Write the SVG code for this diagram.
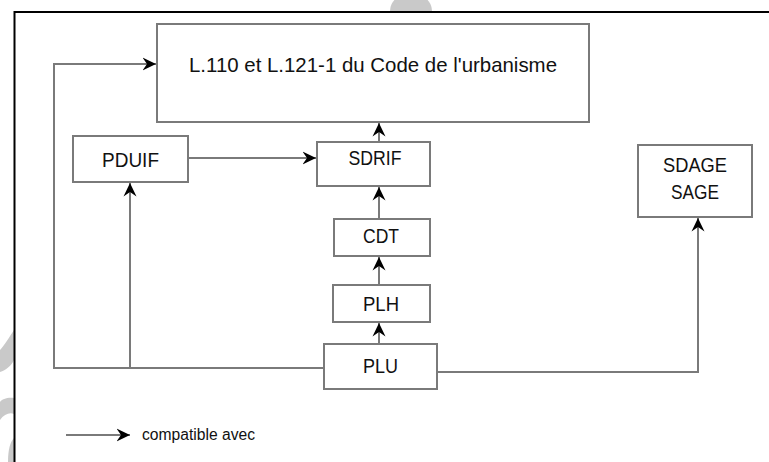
<svg xmlns="http://www.w3.org/2000/svg" width="769" height="462" viewBox="0 0 769 462">
  <style>
    .box { fill: #ffffff; stroke: #7a7a7a; stroke-width: 2; }
    .lbl { font-family: "Liberation Sans", Arial, sans-serif; font-size: 21px; fill: #111111; text-anchor: middle; }
    .wire { fill: none; stroke: #7a7a7a; stroke-width: 2; }
    .frame { fill: none; stroke: #000000; stroke-width: 2; }
    .mark { fill: #c9c9c9; }
  </style>
  <defs>
    <marker id="arrow" markerUnits="userSpaceOnUse" markerWidth="14" markerHeight="14" viewBox="0 0 14 14" refX="13.5" refY="7" orient="auto">
      <path d="M0,0.5 L13.5,7 L0,13.5 L4.5,7 Z" fill="#000000"/>
    </marker>
  </defs>

  <rect width="769" height="462" fill="#ffffff"/>

  <!-- faint marks along the page edge -->
  <g id="edge-marks">
    <path class="mark" d="M390,11 A21,18 0 0 1 432,11 Z"/>
    <path class="mark" d="M14,330 C10,336 4,346 0,350 L0,372 C6,370 11,366 14,360 Z"/>
    <path class="mark" d="M14,398 C8,397 2,399 0,402 L0,420 C4,414 10,412 14,414 Z"/>
    <path class="mark" d="M14,438 C10,442 8,450 8,462 L14,462 Z"/>
  </g>

  <!-- page frame -->
  <path class="frame" d="M14.5,462 V12 H769"/>

  <g id="connectors">
    <line class="wire" x1="379" y1="142" x2="379" y2="123" marker-end="url(#arrow)"/>
    <line class="wire" x1="379" y1="219" x2="379" y2="187" marker-end="url(#arrow)"/>
    <line class="wire" x1="379" y1="285" x2="379" y2="257" marker-end="url(#arrow)"/>
    <line class="wire" x1="379" y1="344" x2="379" y2="323" marker-end="url(#arrow)"/>
    <line class="wire" x1="188" y1="158" x2="316" y2="158" marker-end="url(#arrow)"/>
    <path class="wire" d="M324,368 H54 V64 H156" marker-end="url(#arrow)"/>
    <path class="wire" d="M130,368 V183" marker-end="url(#arrow)"/>
    <path class="wire" d="M438,372 H698 V218" marker-end="url(#arrow)"/>
  </g>

  <g id="code-urbanisme">
    <rect class="box" x="157" y="24" width="432" height="98"/>
    <text class="lbl" x="373" y="72" textLength="368" lengthAdjust="spacingAndGlyphs">L.110 et L.121-1 du Code de l'urbanisme</text>
  </g>

  <g id="pduif">
    <rect class="box" x="73" y="136" width="115" height="46"/>
    <text class="lbl" x="130.5" y="167" textLength="57" lengthAdjust="spacingAndGlyphs">PDUIF</text>
  </g>

  <g id="sdrif">
    <rect class="box" x="317" y="142" width="113" height="44"/>
    <text class="lbl" x="375" y="165" textLength="53" lengthAdjust="spacingAndGlyphs">SDRIF</text>
  </g>

  <g id="cdt">
    <rect class="box" x="334" y="219" width="96" height="37"/>
    <text class="lbl" x="381" y="243" textLength="36" lengthAdjust="spacingAndGlyphs">CDT</text>
  </g>

  <g id="plh">
    <rect class="box" x="333" y="285" width="97" height="37"/>
    <text class="lbl" x="381" y="311" textLength="36" lengthAdjust="spacingAndGlyphs">PLH</text>
  </g>

  <g id="plu">
    <rect class="box" x="324" y="344" width="113" height="45"/>
    <text class="lbl" x="380.5" y="373" textLength="35" lengthAdjust="spacingAndGlyphs">PLU</text>
  </g>

  <g id="sdage-sage">
    <rect class="box" x="638" y="145" width="114" height="72"/>
    <text class="lbl" x="695" y="172" textLength="64" lengthAdjust="spacingAndGlyphs">SDAGE</text>
    <text class="lbl" x="695" y="199" textLength="48" lengthAdjust="spacingAndGlyphs">SAGE</text>
  </g>

  <g id="legend">
    <line class="wire" x1="66" y1="435" x2="130" y2="435" marker-end="url(#arrow)"/>
    <text x="142" y="440" font-family="Liberation Sans, Arial, sans-serif" font-size="16" fill="#111111" textLength="113" lengthAdjust="spacingAndGlyphs">compatible avec</text>
  </g>
</svg>
